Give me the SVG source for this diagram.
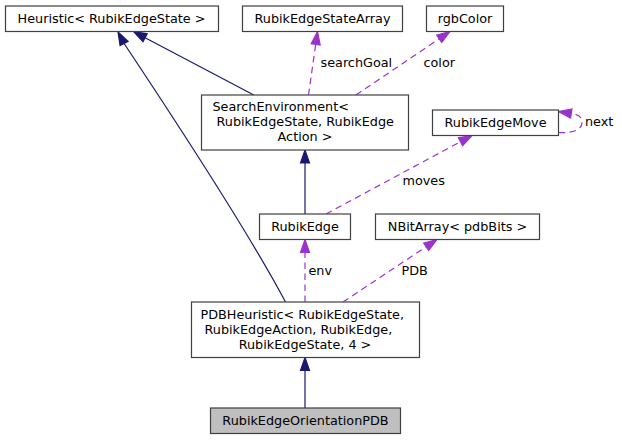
<svg xmlns="http://www.w3.org/2000/svg" width="622" height="440" viewBox="0 0 622 440">
<style>
  .box rect { fill: #ffffff; stroke: #404040; stroke-width: 1.2; }
  .box.hl rect { fill: #bfbfbf; }
  text { font-family: "DejaVu Sans", "Liberation Sans", sans-serif; font-size: 12.8px; fill: #000000; }
  .mid { text-anchor: middle; }
  .inh { fill: none; stroke: #191970; stroke-width: 1.2; }
  .inh-head { fill: #191970; stroke: #191970; stroke-width: 1.2; }
  .use { fill: none; stroke: #9a32cd; stroke-width: 1.2; stroke-dasharray: 6.5,4.5; }
  .use-head { fill: #9a32cd; stroke: #9a32cd; stroke-width: 1.2; }
</style>
<rect width="622" height="440" fill="#ffffff"/>
<g id="connectors">
  <!-- PDBHeuristic -> Heuristic -->
  <path class="inh" d="M285.5,302 C250,235 175,120 124.1,43.5"/>
  <polygon class="inh-head" points="118,32 128.1,41.4 120.1,45.6"/>
  <!-- SearchEnvironment -> Heuristic -->
  <path class="inh" d="M253.8,95 L145.1,37.8"/>
  <polygon class="inh-head" points="133.6,31.7 147.2,33.8 143,41.8"/>
  <!-- RubikEdge -> SearchEnvironment -->
  <path class="inh" d="M305,214 L305,163"/>
  <polygon class="inh-head" points="305,150 309.5,163 300.5,163"/>
  <!-- RubikEdgeOrientationPDB -> PDBHeuristic -->
  <path class="inh" d="M305,408 L305,370.5"/>
  <polygon class="inh-head" points="305,357.5 309.5,370.5 300.5,370.5"/>
  <!-- searchGoal -->
  <path class="use" d="M308.5,95 L315.7,44.4"/>
  <polygon class="use-head" points="317.5,31.5 320.2,45 311.2,43.8"/>
  <text x="320.5" y="66.5">searchGoal</text>
  <!-- color -->
  <path class="use" d="M356,95 L439.2,38.8"/>
  <polygon class="use-head" points="450,31.5 441.7,42.5 436.7,35.1"/>
  <text x="423.5" y="66.5">color</text>
  <!-- moves -->
  <path class="use" d="M326,214 L460.5,141.7"/>
  <polygon class="use-head" points="472,135.5 462.6,145.6 458.4,137.7"/>
  <text x="402.5" y="185">moves</text>
  <!-- next (self loop) -->
  <path class="use" d="M558.5,132.5 C572,133.5 582,130 582,122.5 C582,116.5 578,114.2 571.3,113.6"/>
  <polygon class="use-head" points="558.5,111.5 572,109.1 570.6,118"/>
  <text x="585" y="126">next</text>
  <!-- env -->
  <path class="use" d="M305,302 L305,252.5"/>
  <polygon class="use-head" points="305,239.5 309.5,252.5 300.5,252.5"/>
  <text x="308.5" y="275">env</text>
  <!-- PDB -->
  <path class="use" d="M343,302 L426.2,246.7"/>
  <polygon class="use-head" points="437,239.5 428.7,250.4 423.7,243"/>
  <text x="401.5" y="275">PDB</text>
</g>
<g id="node-heuristic" class="box">
  <rect x="5.5" y="6" width="213" height="25.5"/>
  <text class="mid" x="111.5" y="22.5">Heuristic&lt; RubikEdgeState &gt;</text>
</g>
<g id="node-rubikedgestatearray" class="box">
  <rect x="242.5" y="6" width="160" height="25.5"/>
  <text class="mid" x="322.5" y="22.5">RubikEdgeStateArray</text>
</g>
<g id="node-rgbcolor" class="box">
  <rect x="426.5" y="6" width="77" height="25.5"/>
  <text class="mid" x="465" y="22.5">rgbColor</text>
</g>
<g id="node-searchenvironment" class="box">
  <rect x="201.5" y="95" width="207" height="55"/>
  <text x="212.5" y="110.5">SearchEnvironment&lt;</text>
  <text x="216.5" y="125.5">RubikEdgeState, RubikEdge</text>
  <text class="mid" x="305" y="140.5">Action &gt;</text>
</g>
<g id="node-rubikedgemove" class="box">
  <rect x="432.5" y="110" width="126" height="25.5"/>
  <text class="mid" x="495.5" y="126.5">RubikEdgeMove</text>
</g>
<g id="node-rubikedge" class="box">
  <rect x="259.5" y="214" width="91" height="25.5"/>
  <text class="mid" x="305" y="230.5">RubikEdge</text>
</g>
<g id="node-nbitarray" class="box">
  <rect x="375.5" y="214" width="164" height="25.5"/>
  <text class="mid" x="457.5" y="230.5">NBitArray&lt; pdbBits &gt;</text>
</g>
<g id="node-pdbheuristic" class="box">
  <rect x="191.5" y="302" width="228" height="55.5"/>
  <text x="200.5" y="318.5">PDBHeuristic&lt; RubikEdgeState,</text>
  <text x="204.5" y="333.5">RubikEdgeAction, RubikEdge,</text>
  <text class="mid" x="305" y="348.5">RubikEdgeState, 4 &gt;</text>
</g>
<g id="node-rubikedgeorientationpdb" class="box hl">
  <rect x="210.5" y="408" width="190" height="25.5"/>
  <text class="mid" x="305.5" y="425">RubikEdgeOrientationPDB</text>
</g>
</svg>
